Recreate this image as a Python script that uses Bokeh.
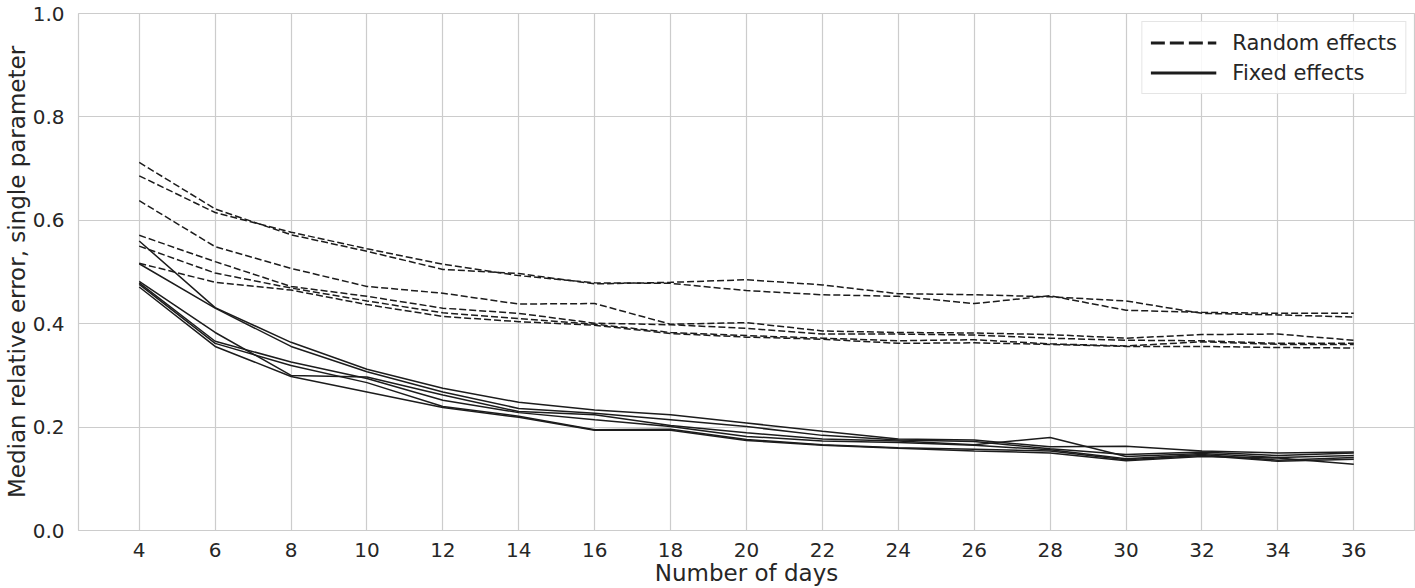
from bokeh.plotting import figure
from bokeh.models import FixedTicker, NumeralTickFormatter, Range1d, Legend, LegendItem
from bokeh.embed import file_html
from bokeh.resources import INLINE

days = [4, 6, 8, 10, 12, 14, 16, 18, 20, 22, 24, 26, 28, 30, 32, 34, 36]

random_effects = [
    [0.712, 0.622, 0.572, 0.540, 0.505, 0.497, 0.477, 0.480, 0.485, 0.475, 0.458, 0.456, 0.452, 0.444, 0.420, 0.417, 0.413],
    [0.686, 0.615, 0.577, 0.545, 0.515, 0.493, 0.479, 0.478, 0.464, 0.456, 0.453, 0.439, 0.454, 0.426, 0.422, 0.420, 0.420],
    [0.638, 0.549, 0.507, 0.472, 0.459, 0.438, 0.439, 0.399, 0.402, 0.386, 0.383, 0.382, 0.379, 0.372, 0.379, 0.380, 0.368],
    [0.571, 0.520, 0.472, 0.453, 0.430, 0.420, 0.401, 0.398, 0.391, 0.380, 0.380, 0.378, 0.372, 0.368, 0.367, 0.362, 0.362],
    [0.550, 0.498, 0.469, 0.444, 0.421, 0.410, 0.399, 0.383, 0.377, 0.372, 0.367, 0.369, 0.361, 0.357, 0.365, 0.360, 0.360],
    [0.517, 0.480, 0.465, 0.437, 0.414, 0.404, 0.397, 0.381, 0.374, 0.370, 0.362, 0.363, 0.360, 0.356, 0.356, 0.354, 0.353],
]

fixed_effects = [
    [0.560, 0.431, 0.364, 0.312, 0.275, 0.248, 0.233, 0.224, 0.208, 0.192, 0.177, 0.175, 0.162, 0.163, 0.154, 0.150, 0.152],
    [0.516, 0.430, 0.356, 0.307, 0.268, 0.236, 0.227, 0.214, 0.201, 0.184, 0.175, 0.172, 0.158, 0.147, 0.152, 0.145, 0.150],
    [0.482, 0.383, 0.300, 0.297, 0.262, 0.230, 0.224, 0.203, 0.189, 0.177, 0.173, 0.166, 0.180, 0.143, 0.149, 0.141, 0.145],
    [0.479, 0.366, 0.326, 0.294, 0.252, 0.228, 0.214, 0.201, 0.182, 0.173, 0.170, 0.165, 0.156, 0.139, 0.147, 0.136, 0.141],
    [0.476, 0.362, 0.319, 0.286, 0.240, 0.221, 0.195, 0.196, 0.176, 0.166, 0.160, 0.157, 0.154, 0.137, 0.145, 0.134, 0.138],
    [0.471, 0.356, 0.298, 0.268, 0.238, 0.219, 0.194, 0.194, 0.174, 0.165, 0.159, 0.154, 0.150, 0.135, 0.143, 0.140, 0.128],
]

x_ticks = list(range(4, 37, 2))
y_ticks = [0.0, 0.2, 0.4, 0.6, 0.8, 1.0]
legend_labels = ["Random effects", "Fixed effects"]

FONT = "DejaVu Sans"
TXT = "#262626"
LINE = "#1c1c1c"

p = figure(width=1415, height=588, output_backend="svg", toolbar_location=None,
           x_range=Range1d(2.4, 37.6), y_range=Range1d(0, 1.0),
           min_border_left=69, min_border_right=1, min_border_top=13, min_border_bottom=56)

p.background_fill_color = "white"
p.border_fill_color = "white"
p.outline_line_color = "#cccccc"
p.outline_line_width = 1.2

for ax in (p.xaxis[0], p.yaxis[0]):
    ax.axis_line_color = None
    ax.major_tick_line_color = None
    ax.minor_tick_line_color = None
    ax.major_label_text_font = FONT
    ax.major_label_text_font_size = "20px"
    ax.major_label_text_color = TXT
    ax.axis_label_text_font = FONT
    ax.axis_label_text_font_size = "23px"
    ax.axis_label_text_font_style = "normal"
    ax.axis_label_text_color = TXT

p.xaxis.ticker = FixedTicker(ticks=x_ticks)
p.yaxis.ticker = FixedTicker(ticks=y_ticks)
p.yaxis.formatter = NumeralTickFormatter(format="0.0")
p.xaxis.axis_label = "Number of days"
p.yaxis.axis_label = "Median relative error, single parameter"
p.xaxis.major_label_standoff = 6
p.xaxis.axis_label_standoff = 0
p.yaxis.major_label_standoff = 8
p.yaxis.axis_label_standoff = 0

p.xgrid.grid_line_color = "#cccccc"
p.ygrid.grid_line_color = "#cccccc"
p.xgrid.grid_line_width = 1.2
p.ygrid.grid_line_width = 1.2

for ys in random_effects:
    p.line(days, ys, line_color=LINE, line_width=1.5, line_dash="7 3")
for ys in fixed_effects:
    p.line(days, ys, line_color=LINE, line_width=1.5)

# off-screen renderers used only for the legend glyphs
r_dash = p.line([-100, -99], [-100, -99], line_color=LINE, line_width=2.8, line_dash="14 5")
r_solid = p.line([-100, -99], [-100, -99], line_color=LINE, line_width=2.8)

legend = Legend(items=[LegendItem(label=legend_labels[0], renderers=[r_dash]),
                       LegendItem(label=legend_labels[1], renderers=[r_solid])],
                location="top_right")
legend.label_text_font = FONT
legend.label_text_font_size = "21px"
legend.label_text_color = TXT
legend.glyph_width = 66
legend.glyph_height = 25
legend.label_height = 25
legend.spacing = 5
legend.padding = 8
legend.margin = 8
legend.label_standoff = 16
legend.border_line_color = "#cccccc"
legend.border_line_width = 1
legend.background_fill_alpha = 0.85
p.add_layout(legend)

open("out.html", "w").write(file_html(p, INLINE))
